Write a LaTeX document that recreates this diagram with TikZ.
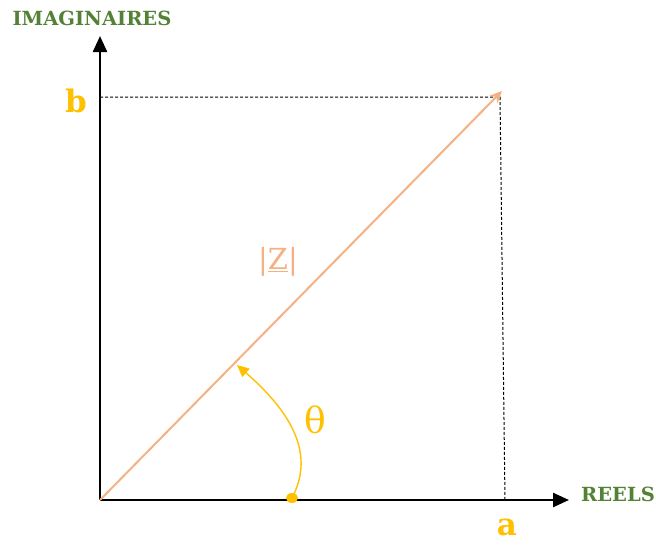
\documentclass[tikz,border=0pt]{standalone}
\usepackage{fontspec}
\setmainfont{DejaVu Serif}
\usetikzlibrary{arrows.meta}
\definecolor{axgreen}{HTML}{538135}
\definecolor{gold}{HTML}{FFC000}
\definecolor{salmon}{HTML}{F4B183}
\begin{document}
\begin{tikzpicture}[x=1pt,y=-1pt,
  axis/.style={line width=2.4pt,-{Triangle[length=16pt,width=14pt]}},
  guide/.style={line width=1pt,dash pattern=on 3pt off 2pt},
  axlabel/.style={text=axgreen,font=\bfseries\fontsize{19.5}{22}\selectfont,inner sep=0pt},
  vallabel/.style={text=gold,font=\bfseries\fontsize{31}{34}\selectfont,inner sep=0pt}]
\useasboundingbox (0,0) rectangle (656,544);
\coordinate (O) at (100,500);
\coordinate (Ytip) at (100,36);
\coordinate (Xtip) at (569,500);
\coordinate (P) at (502,91);
\coordinate (B) at (100,97);
\coordinate (Corner) at (500,97);
\coordinate (A) at (505,500);
\draw[axis] (O) -- (Ytip);
\draw[axis] (O) -- (Xtip);
\draw[guide] (B) -- (Corner) -- (A);
\draw[salmon,line width=2pt,-{Stealth[length=12pt,width=11pt]}] (O) -- (P);
\node[axlabel] (imag) at (92,18) {IMAGINAIRES};
\node[axlabel] (reels) at (618,494) {REELS};
\node[vallabel] (b) at (76,101) {b};
\node[vallabel,anchor=base] (a) at (507,535) {a};
\node[text=salmon,font=\fontsize{29}{32}\selectfont,inner sep=0pt] (z) at (278,262) {|\underline{Z}|};
\coordinate (T0) at (292,498);
\coordinate (T1) at (237,365);
\fill[gold] (T0) ellipse (6pt and 5pt);
\draw[gold,line width=1.4pt,-{Triangle[length=12pt,width=11pt]}] (T0) .. controls (312,460) and (300,420) .. (T1);
\node[text=gold,font=\fontsize{36}{40}\selectfont,inner sep=0pt] (theta) at (315,420) {θ};
\end{tikzpicture}
\end{document}
